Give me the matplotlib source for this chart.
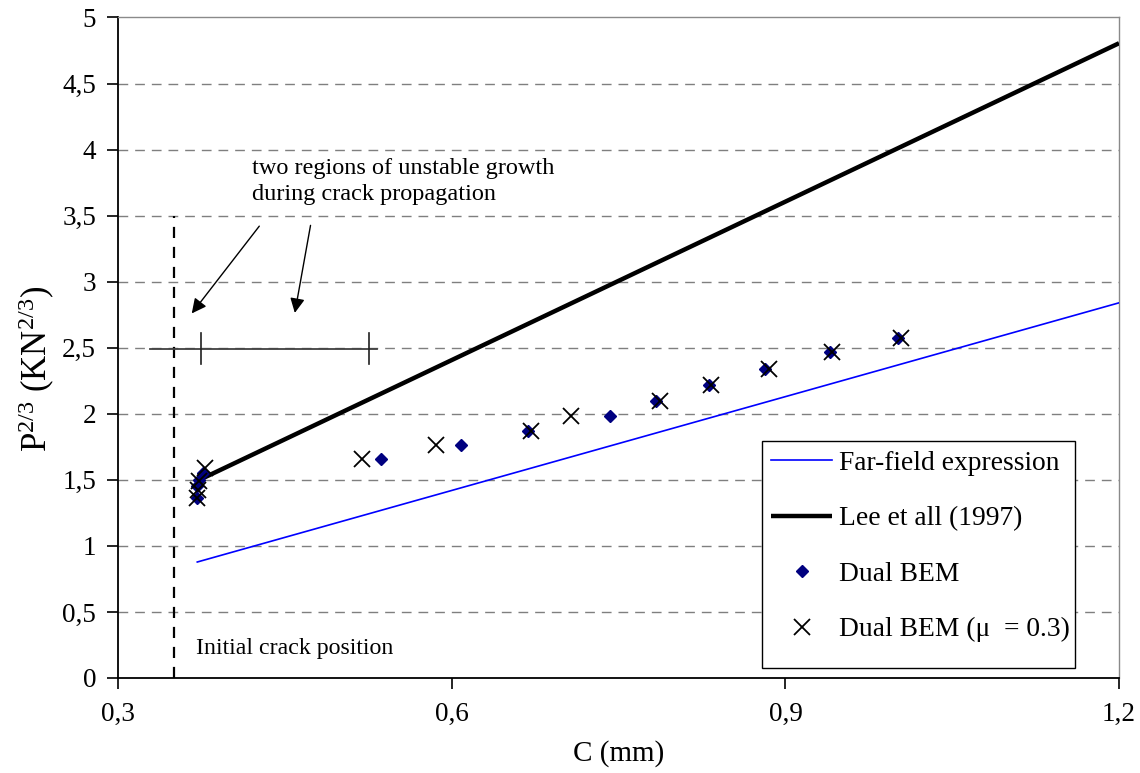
import matplotlib
matplotlib.use("Agg")
import matplotlib.pyplot as plt
from matplotlib.patches import Rectangle

plt.rcParams['font.family'] = ['Liberation Serif', 'DejaVu Serif']
plt.rcParams['mathtext.fontset'] = 'custom'
plt.rcParams['mathtext.rm'] = 'Liberation Serif'
plt.rcParams['mathtext.default'] = 'regular'

# far-field expression and Lee et al. (1997): straight lines, end points
farfield_c = [0.371, 1.2]
farfield_p = [0.878, 2.84]
lee_c = [0.374, 1.2]
lee_p = [1.504, 4.805]

# Dual BEM results
bem_c = [0.371, 0.371, 0.373, 0.376, 0.536, 0.608, 0.668, 0.742, 0.784, 0.831, 0.882, 0.940, 1.001]
bem_p = [1.36, 1.45, 1.50, 1.55, 1.656, 1.762, 1.871, 1.983, 2.099, 2.218, 2.339, 2.466, 2.574]

# Dual BEM with friction mu = 0.3
mu_c = [0.371, 0.372, 0.373, 0.378, 0.519, 0.586, 0.671, 0.707, 0.787, 0.833, 0.885, 0.942, 1.004]
mu_p = [1.36, 1.42, 1.49, 1.59, 1.656, 1.762, 1.870, 1.983, 2.099, 2.218, 2.339, 2.466, 2.574]

xticks = [0.3, 0.6, 0.9, 1.2]
xtick_labels = ['0,3', '0,6', '0,9', '1,2']
yticks = [0, 0.5, 1, 1.5, 2, 2.5, 3, 3.5, 4, 4.5, 5]
ytick_labels = ['0', '0,5', '1', '1,5', '2', '2,5', '3', '3,5', '4', '4,5', '5']

# unstable growth region markers
initial_crack_c = 0.3505
region_p = 2.488
region_c = [0.3285, 0.533]
region_ticks_c = [0.3745, 0.525]

fig = plt.figure(figsize=(11.4, 7.73), dpi=100)
ax = fig.add_axes([0.1038, 0.1229, 0.9816 - 0.1038, 0.9774 - 0.1229])

for y in yticks[1:-1]:
    ax.axhline(y, color='#7f7f7f', lw=1.0, ls=(0, (7, 5)), zorder=0)

ax.plot(farfield_c, farfield_p, color='#0000ff', lw=1.2, label='Far-field expression', zorder=3)
ax.plot(lee_c, lee_p, color='black', lw=3.2, solid_capstyle='butt', label='Lee et all (1997)', zorder=3)
ax.plot(bem_c, bem_p, ls='none', marker='D', ms=6, color='#000080', label='Dual BEM', zorder=4)
ax.plot(mu_c, mu_p, ls='none', marker='x', ms=11, mew=1.3, color='black',
        label='Dual BEM (μ  = 0.3)', zorder=5)

# initial crack position
ax.plot([initial_crack_c, initial_crack_c], [0, 3.5], color='black', lw=1.6, ls=(0, (5, 4)), zorder=2)
ax.text(0.3696, 0.225, 'Initial crack position', fontsize=17.2, va='center', ha='left')

# unstable regions bar
ax.plot(region_c, [region_p, region_p], color='#404040', lw=1.3, zorder=2)
for c in region_ticks_c:
    ax.plot([c, c], [2.38, 2.61], color='#202020', lw=1.2, zorder=2)

ax.text(0.42, 3.757, 'two regions of unstable growth\nduring crack propagation',
        fontsize=17.5, va='center', ha='left', linespacing=1.3)
ax.annotate('', xy=(0.3645, 2.743), xytext=(0.4283, 3.437),
            arrowprops=dict(arrowstyle='-|>', color='black', lw=1.0, mutation_scale=22))
ax.annotate('', xy=(0.4583, 2.743), xytext=(0.4733, 3.447),
            arrowprops=dict(arrowstyle='-|>', color='black', lw=1.0, mutation_scale=22))

ax.set_xlim(0.3, 1.2)
ax.set_ylim(0, 5)
ax.set_xticks(xticks)
ax.set_xticklabels(xtick_labels)
ax.set_yticks(yticks)
ax.set_yticklabels(ytick_labels)
ax.tick_params(axis='both', direction='out', length=8, width=1.2, labelsize=19.5)
ax.tick_params(axis='x', pad=9)
ax.tick_params(axis='y', pad=8)

ax.spines['left'].set_linewidth(1.3)
ax.spines['bottom'].set_linewidth(1.3)
ax.spines['top'].set_color('#8a8a8a')
ax.spines['right'].set_color('#8a8a8a')
ax.spines['top'].set_linewidth(1.0)
ax.spines['right'].set_linewidth(1.0)

ax.set_xlabel('C (mm)', fontsize=21, labelpad=10)
ax.set_ylabel('P$^{2/3}$ (KN$^{2/3}$)', fontsize=25)
ax.yaxis.set_label_coords(-0.061, 0.468)

# legend box drawn separately so it can carry the extra bottom padding of the original
ax.add_patch(Rectangle((0.643, 0.0156), 0.313, 0.343, transform=ax.transAxes,
                       facecolor='white', edgecolor='black', lw=1.0, zorder=6))
leg = ax.legend(loc='upper left', bbox_to_anchor=(0.643, 0.359), frameon=False,
                fontsize=19.8, handlelength=2.2, handletextpad=0.25,
                labelspacing=1.1, borderpad=0.35, borderaxespad=0)
leg.set_zorder(7)

fig.savefig('out.png', dpi=100)
